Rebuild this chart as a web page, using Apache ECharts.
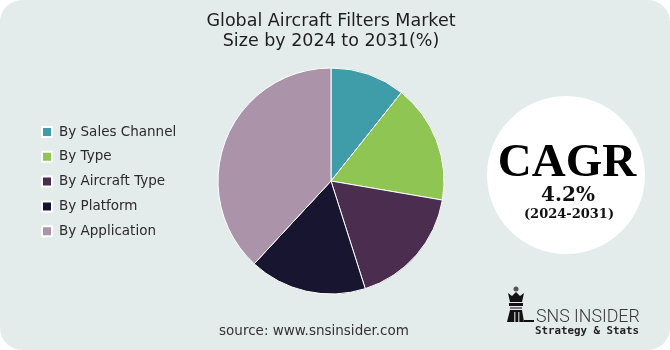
<!DOCTYPE html>
<html>
<head>
<meta charset="utf-8">
<script src="https://cdn.jsdelivr.net/npm/echarts@6/dist/echarts.min.js"></script>
<style>html,body{margin:0;padding:0;background:#fff}#c{width:670px;height:350px}</style>
</head>
<body>
<div id="c"></div>
<script>
const categories = ['By Sales Channel', 'By Type', 'By Aircraft Type', 'By Platform', 'By Application'];
const shares = [10.7, 17.0, 17.4, 16.8, 38.1];
const colors = ['#3e9da9', '#8fc553', '#4a2d4f', '#181530', '#ab94a9'];
const titleLines = ['Global Aircraft Filters Market', 'Size by 2024 to 2031(%)'];
const cagrValue = '4.2%';
const cagrPeriod = '(2024-2031)';
const sourceText = 'source: www.snsinsider.com';

const chart = echarts.init(document.getElementById('c'), null, {renderer: 'canvas'});
chart.setOption({
  backgroundColor: '#ffffff',
  animation: false,
  color: colors,
  legend: {
    orient: 'vertical',
    left: 36,
    top: 120,
    itemWidth: 10,
    itemHeight: 10,
    itemGap: 10.8,
    icon: 'rect',
    textStyle: {fontFamily: 'DejaVu Sans', fontSize: 13.5, color: '#2b2b2b', lineHeight: 14, padding: [0, 0, 0, 2]},
    data: categories
  },
  series: [{
    type: 'pie',
    center: [331, 181],
    radius: [0, 113],
    startAngle: 90,
    clockwise: true,
    label: {show: false},
    labelLine: {show: false},
    itemStyle: {borderColor: '#ffffff', borderWidth: 1},
    emphasis: {disabled: true},
    data: categories.map((n, i) => ({name: n, value: shares[i]}))
  }],
  graphic: [
    {type: 'rect', z: -10, shape: {x: 0, y: 0, width: 670, height: 350, r: 22}, style: {fill: '#e4ebeb'}},
    {type: 'text', x: 331, y: 11, style: {text: titleLines.join('\n'), fontFamily: 'DejaVu Sans', fontSize: 17.5, lineHeight: 20, fill: '#1e1e1e', align: 'center'}},
    {type: 'text', x: 314, y: 331, style: {text: sourceText, fontFamily: 'DejaVu Sans', fontSize: 13.5, fill: '#333', align: 'center', verticalAlign: 'middle'}},
    {type: 'circle', shape: {cx: 566, cy: 175, r: 79}, style: {fill: '#ffffff'}},
    {type: 'text', x: 567, y: 164, style: {text: 'CAGR', fontFamily: 'Liberation Serif', fontWeight: 'bold', fontSize: 47, fill: '#000', align: 'center', verticalAlign: 'middle'}},
    {type: 'text', x: 568, y: 196, style: {text: cagrValue, fontFamily: 'DejaVu Serif', fontWeight: 'bold', fontSize: 20, fill: '#111', align: 'center', verticalAlign: 'middle'}},
    {type: 'text', x: 569, y: 215, style: {text: cagrPeriod, fontFamily: 'DejaVu Serif', fontWeight: 'bold', fontSize: 13, fill: '#111', align: 'center', verticalAlign: 'middle'}},
    // logo icon
    {type: 'circle', shape: {cx: 516, cy: 289, r: 2.5}, style: {fill: '#555'}},
    {type: 'polygon', shape: {points: [[508,293],[512,296],[516,292],[520,296],[524,293],[522,302],[510,302]]}, style: {fill: '#111'}},
    {type: 'rect', shape: {x: 509, y: 303, width: 14, height: 3}, style: {fill: '#111'}},
    {type: 'rect', shape: {x: 510, y: 307, width: 12, height: 2}, style: {fill: '#777'}},
    {type: 'polygon', shape: {points: [[510,310],[522,310],[524,322],[507,322]]}, style: {fill: '#111'}},
    {type: 'rect', shape: {x: 514, y: 312, width: 1.5, height: 10}, style: {fill: '#aaa'}},
    {type: 'rect', shape: {x: 518, y: 312, width: 1.5, height: 10}, style: {fill: '#aaa'}},
    {type: 'rect', shape: {x: 524, y: 320, width: 10, height: 2}, style: {fill: '#111'}},
    {type: 'text', x: 536, y: 318, style: {text: 'SNS INSIDER', fontFamily: 'Roboto', fontWeight: 300, fontSize: 17.8, fill: '#3a3a3a', verticalAlign: 'middle'}},
    {type: 'text', x: 535, y: 331, style: {text: 'Strategy & Stats', fontFamily: 'DejaVu Sans Mono', fontWeight: 'bold', fontSize: 10.8, fill: '#222', verticalAlign: 'middle'}}
  ]
});
</script>
</body>
</html>
